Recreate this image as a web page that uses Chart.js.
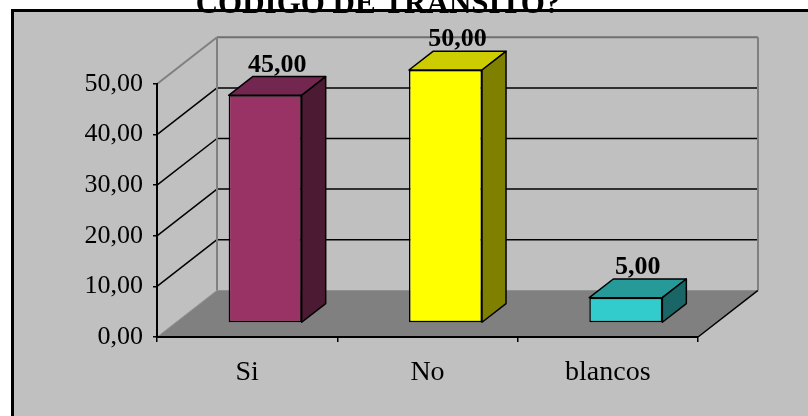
<!DOCTYPE html>
<html>
<head>
<meta charset="utf-8">
<script src="https://cdn.jsdelivr.net/npm/chart.js@4.4.1/dist/chart.umd.min.js"></script>
<style>
    html, body { margin: 0; padding: 0; background: #fff; overflow: hidden; }
    canvas { display: block; }
</style>
</head>
<body>
<canvas id="transitChart" width="808" height="416"></canvas>
<script>
const categories = ['Si', 'No', 'blancos'];
const values = [45, 50, 5];
const yMax = 50;
const yStep = 10;
const titleLine = 'CÓDIGO DE TRÁNSITO?';

const frontColors = ['#993366', '#ffff00', '#33cccc'];
const topColors = ['#732650', '#cccc00', '#269999'];
const sideColors = ['#4d1a33', '#808000', '#1a6666'];

// depth of the 3D box (back wall offset) and where bars sit inside it
const depth = { dx: 60, dy: -46.7 };
const barGap = 0.3;
const barDepth = 0.4;

function fmt(v) {
    return v.toFixed(2).replace('.', ',');
}

function poly(ctx, pts, fill, stroke, lw) {
    ctx.beginPath();
    ctx.moveTo(pts[0][0], pts[0][1]);
    for (let i = 1; i < pts.length; i++) ctx.lineTo(pts[i][0], pts[i][1]);
    ctx.closePath();
    if (fill) { ctx.fillStyle = fill; ctx.fill(); }
    if (stroke) { ctx.strokeStyle = stroke; ctx.lineWidth = lw || 1; ctx.stroke(); }
}

function line(ctx, x1, y1, x2, y2, color, lw) {
    ctx.beginPath();
    ctx.moveTo(x1, y1);
    ctx.lineTo(x2, y2);
    ctx.strokeStyle = color;
    ctx.lineWidth = lw;
    ctx.stroke();
}

const box3d = {
    id: 'box3d',
    beforeDraw(chart) {
        const { ctx, chartArea: a, scales: { y } } = chart;
        const dx = depth.dx, dy = depth.dy;
        const w = chart.width, h = chart.height;
        ctx.save();
        ctx.fillStyle = '#fff';
        ctx.fillRect(0, 0, w, h);
        ctx.fillStyle = '#c0c0c0';
        ctx.fillRect(12, 10, w - 12, h - 10);
        // frame: only its left and top sides fall inside the canvas
        line(ctx, 12.5, 10.5, 12.5, h, '#000', 3);
        line(ctx, 11, 10.5, w, 10.5, '#000', 3);

        const y0 = y.getPixelForValue(0);
        const yTop = y.getPixelForValue(yMax);

        // floor
        poly(ctx, [[a.left, y0], [a.right, y0], [a.right + dx, y0 + dy], [a.left + dx, y0 + dy]], '#808080');
        line(ctx, a.right, y0, a.right + dx, y0 + dy, '#000', 1.5);
        line(ctx, a.left, y0, a.left + dx, y0 + dy, '#999', 1);

        // gridlines on side and back walls
        for (let v = yStep; v < yMax; v += yStep) {
            const py = y.getPixelForValue(v);
            line(ctx, a.left, py, a.left + dx, py + dy, '#000', 1.5);
            line(ctx, a.left + dx, py + dy, a.right + dx, py + dy, '#000', 1.5);
        }

        // wall edges
        line(ctx, a.left, yTop, a.left + dx, yTop + dy, '#808080', 2);
        line(ctx, a.left + dx, yTop + dy, a.right + dx, yTop + dy, '#707070', 2);
        line(ctx, a.left + dx, yTop + dy, a.left + dx, y0 + dy, '#808080', 2);
        line(ctx, a.right + dx, yTop + dy, a.right + dx, y0 + dy, '#808080', 2);
        ctx.restore();
    },
    beforeDatasetsDraw(chart) {
        const ctx = chart.ctx;
        ctx.save();
        ctx.translate(depth.dx * barGap, depth.dy * barGap);
    },
    afterDatasetsDraw(chart) {
        const ctx = chart.ctx;
        const meta = chart.getDatasetMeta(0);
        const bx = depth.dx * barDepth, by = depth.dy * barDepth;
        ctx.lineJoin = 'round';
        meta.data.forEach((bar, i) => {
            const { x, y, base, width } = bar.getProps(['x', 'y', 'base', 'width'], true);
            const l = x - width / 2, r = x + width / 2;
            poly(ctx, [[l, y], [r, y], [r + bx, y + by], [l + bx, y + by]], topColors[i], '#000', 1.5);
            poly(ctx, [[r, y], [r + bx, y + by], [r + bx, base + by], [r, base]], sideColors[i], '#000', 1.5);

            ctx.fillStyle = '#000';
            ctx.font = 'bold 26px "Liberation Serif"';
            ctx.textAlign = 'center';
            ctx.textBaseline = 'alphabetic';
            ctx.fillText(fmt(values[i]), x + bx / 2, y + by - 5);
        });
        ctx.restore();
    },
    afterDraw(chart) {
        const ctx = chart.ctx;
        ctx.save();
        ctx.fillStyle = '#000';
        ctx.font = 'bold 31px "Liberation Serif"';
        ctx.textAlign = 'center';
        ctx.textBaseline = 'alphabetic';
        ctx.fillText(titleLine, 378, 13);
        ctx.restore();
    }
};

const ctx = document.getElementById('transitChart').getContext('2d');
new Chart(ctx, {
    type: 'bar',
    data: {
        labels: categories,
        datasets: [{
            data: values,
            backgroundColor: frontColors,
            borderColor: '#000',
            borderWidth: 1.5,
            borderSkipped: false,
            categoryPercentage: 1,
            barPercentage: 0.405,
            clip: false
        }]
    },
    options: {
        responsive: false,
        animation: false,
        layout: {
            padding: { left: 0, right: 110, top: 84, bottom: 0 }
        },
        plugins: {
            legend: { display: false },
            tooltip: { enabled: false }
        },
        scales: {
            x: {
                grid: { offset: true, drawOnChartArea: false, tickLength: 5, color: '#000', lineWidth: 1.5 },
                border: { color: '#000', width: 2 },
                ticks: {
                    color: '#000',
                    padding: 14,
                    font: { family: '"Liberation Serif"', size: 28 }
                },
                afterFit: scale => { scale.height = 79; }
            },
            y: {
                min: 0,
                max: yMax,
                grid: { drawOnChartArea: false, tickLength: 4, color: '#000', lineWidth: 1.5 },
                border: { color: '#000', width: 2 },
                ticks: {
                    stepSize: yStep,
                    color: '#000',
                    padding: 10,
                    font: { family: '"Liberation Serif"', size: 26 },
                    callback: v => fmt(v)
                },
                afterFit: scale => { scale.width = 157; }
            }
        }
    },
    plugins: [box3d]
});
</script>
</body>
</html>
